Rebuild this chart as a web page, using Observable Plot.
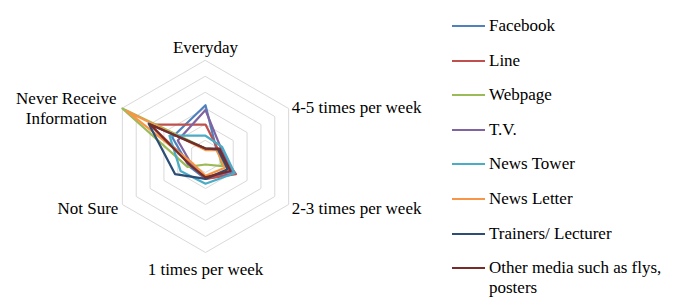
<!DOCTYPE html>
<html>
<head>
<meta charset="utf-8">
<script src="https://cdn.jsdelivr.net/npm/d3@7"></script>
<script src="https://cdn.jsdelivr.net/npm/@observablehq/plot@0.6"></script>
<style>
  html, body { margin: 0; padding: 0; background: #fff; }
  #wrap { position: relative; width: 673px; height: 301px; overflow: hidden; font-family: "Liberation Serif", "Times New Roman", serif; }
  #legend { position: absolute; left: 0; top: 0; }
  .item { position: absolute; left: 452px; font-size: 17px; line-height: 20px; color: #000; white-space: normal; width: 215px; }
  .sw { position: absolute; left: 0; top: 9px; width: 33px; height: 2px; }
  .lab { position: absolute; left: 37px; top: 0; width: 180px; }
</style>
</head>
<body>
<div id="wrap"><div id="chart"></div><div id="legend"></div></div>
<script>
// ---- data ----
const axes = ["Everyday", "4-5 times per week", "2-3 times per week", "1 times per week", "Not Sure", "Never Receive\nInformation"];
const seriesNames = ["Facebook", "Line", "Webpage", "T.V.", "News Tower", "News Letter", "Trainers/ Lecturer", "Other media such as flys, posters"];
const seriesColors = ["#4F81BD", "#C0504D", "#9BBB59", "#8064A2", "#4BACC6", "#F79646", "#2C4D75", "#772C2A"];
const facebook   = [32, 8, 21, 14, 12, 24];
const line       = [20, 9, 22, 14, 10, 40];
const webpage    = [5, 9, 12, 5, 13, 60];
const tv         = [29, 11, 19, 13, 10, 20];
const newsTower  = [13, 12, 21, 17, 18, 26];
const newsLetter = [4, 8, 14, 12, 9, 57];
const trainers   = [5, 9, 16, 14, 22, 41];
const otherMedia = [5, 10, 18, 13, 11, 40];
const seriesValues = [facebook, line, webpage, tv, newsTower, newsLetter, trainers, otherMedia];
const ringValues = [10, 20, 30, 40, 50, 60];

// ---- layout ----
const W = 673, H = 301, cx = 205, cy = 156, pxPerUnit = 1.6;
const ang = i => i * Math.PI / 3;

const gridRows = [];
ringValues.forEach(r => axes.forEach((a, i) => gridRows.push({ring: r, x: r * Math.sin(ang(i)), y: r * Math.cos(ang(i))})));

const seriesRows = [];
seriesNames.forEach((s, k) => seriesValues[k].forEach((v, i) => seriesRows.push({series: s, axis: axes[i], x: v * Math.sin(ang(i)), y: v * Math.cos(ang(i))})));

const maxR = ringValues[ringValues.length - 1];
const labelStyle = [
  {dx: 0, dy: -14, anchor: "middle"},
  {dx: 3, dy: -2, anchor: "start"},
  {dx: 3, dy: 3, anchor: "start"},
  {dx: 0, dy: 16, anchor: "middle"},
  {dx: -4, dy: 3, anchor: "end"},
  {dx: -56, dy: -1, anchor: "middle"}
];
const labelMarks = axes.map((a, i) => Plot.text([{label: a, x: maxR * Math.sin(ang(i)), y: maxR * Math.cos(ang(i))}], {
  x: "x", y: "y", text: "label", dx: labelStyle[i].dx, dy: labelStyle[i].dy, textAnchor: labelStyle[i].anchor,
  fontSize: 17, lineHeight: 1.18, fill: "#000"
}));

const plot = Plot.plot({
  width: W, height: H,
  marginTop: 0, marginBottom: 0, marginLeft: 0, marginRight: 0,
  style: {fontFamily: "Liberation Serif, Times New Roman, serif", background: "transparent"},
  x: {domain: [-cx / pxPerUnit, (W - cx) / pxPerUnit], range: [0, W], axis: null},
  y: {domain: [-(H - cy) / pxPerUnit, cy / pxPerUnit], range: [H, 0], axis: null},
  color: {domain: seriesNames, range: seriesColors},
  marks: [
    Plot.line(gridRows, {x: "x", y: "y", z: "ring", curve: "linear-closed", stroke: "#D9D9D9", strokeWidth: 1}),
    Plot.line(seriesRows, {x: "x", y: "y", z: "series", stroke: "series", curve: "linear-closed", strokeWidth: 2.25, strokeLinejoin: "round"}),
    ...labelMarks
  ]
});
document.getElementById("chart").appendChild(plot);

// ---- legend ----
const legend = document.getElementById("legend");
seriesNames.forEach((s, k) => {
  const it = document.createElement("div");
  it.className = "item";
  it.style.top = (16 + k * 34.6) + "px";
  const sw = document.createElement("div");
  sw.className = "sw";
  sw.style.background = seriesColors[k];
  const lab = document.createElement("div");
  lab.className = "lab";
  lab.textContent = s;
  it.appendChild(sw); it.appendChild(lab);
  legend.appendChild(it);
});
</script>
</body>
</html>
